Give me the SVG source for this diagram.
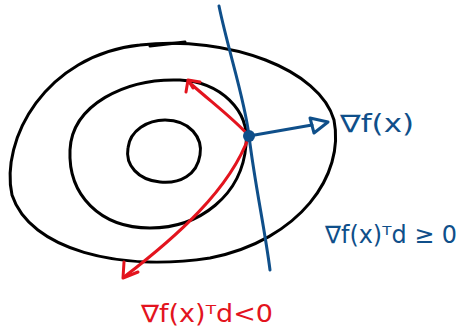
<svg xmlns="http://www.w3.org/2000/svg" width="460" height="332" viewBox="0 0 460 332">
<defs>
<style>
.c{fill:none;stroke:#000;stroke-width:3;stroke-linecap:round}
.b{fill:none;stroke:#0f4f8a;stroke-width:3;stroke-linecap:round;stroke-linejoin:round}
.r{fill:none;stroke:#e3141e;stroke-width:3;stroke-linecap:round;stroke-linejoin:round}
.tb{fill:#0f4f8a;font-family:"DejaVu Sans",sans-serif;font-size:24px}
.tr{fill:#e3141e;font-family:"DejaVu Sans",sans-serif;font-size:24px}
</style>
</defs>
<rect width="460" height="332" fill="#fff"/>
<g id="outer"><path class="c" d="M140 45 C 230 35, 320 70, 334 120 C 345 175, 300 240, 210 258 C 120 272, 30 250, 12 195 C 0 140, 45 55, 140 45"/><path class="c" d="M150 46 L 185 42"/></g>
<g id="middle"><path class="c" d="M180 80 C 220 82, 250 110, 246 145 C 242 195, 200 228, 150 228 C 100 228, 68 195, 70 150 C 72 105, 125 78, 180 80"/></g>
<g id="inner"><path class="c" d="M165 120 C 190 120, 203 138, 200 155 C 197 175, 180 184, 160 182 C 138 180, 125 165, 128 148 C 130 130, 148 120, 165 120"/></g>
<g id="connectors">
<path class="b" d="M219 6 C 228 50, 245 100, 249 136 C 255 185, 265 230, 270 270"/>
<path class="b" d="M249 136 L 312 125"/>
<path class="b" d="M310 118 L 328 122 L 314 133 Z"/>
<path class="r" d="M249 136 C 235 120, 215 105, 191 84"/>
<path class="r" d="M186 92 L 188 80 L 200 82 M188 80 L 193 88"/>
<path class="r" d="M249 136 C 230 190, 175 238, 124 277"/>
<path class="r" d="M124 262 L 123 278 L 138 272"/>
</g>
<circle id="point" cx="249" cy="136" r="6" fill="#0f4f8a"/>
<g id="labels">
<text class="tb" x="340" y="132" textLength="74" lengthAdjust="spacingAndGlyphs">∇f(x)</text>
<text class="tb" x="325" y="243" textLength="132" lengthAdjust="spacingAndGlyphs">∇f(x)ᵀd ≥ 0</text>
<text class="tr" x="141" y="322" textLength="132" lengthAdjust="spacingAndGlyphs">∇f(x)ᵀd&lt;0</text>
</g>
</svg>
